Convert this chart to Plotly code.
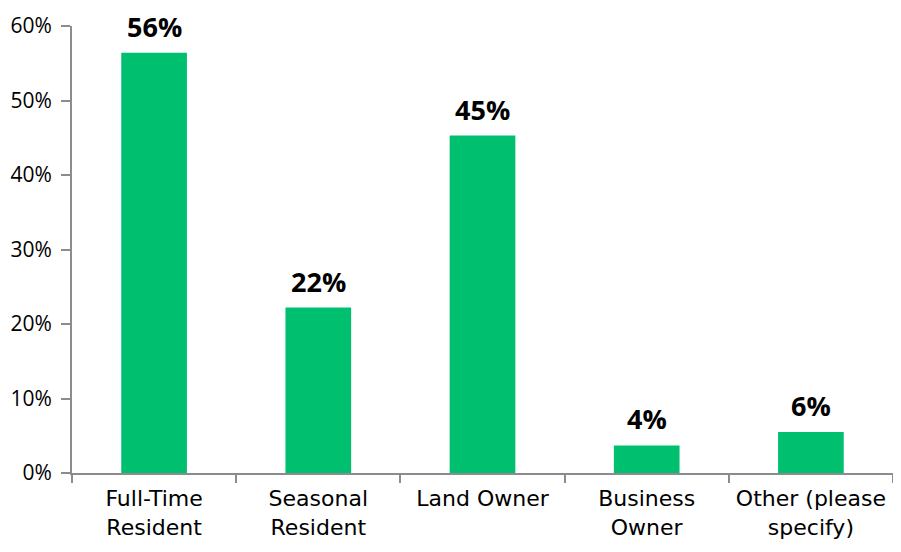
import plotly.graph_objects as go

categories = ["Full-Time<br>Resident", "Seasonal<br>Resident", "Land Owner", "Business<br>Owner", "Other (please<br>specify)"]
values = [56.4, 22.2, 45.3, 3.7, 5.5]
labels = ["56%", "22%", "45%", "4%", "6%"]
tick_vals = [0, 10, 20, 30, 40, 50, 60]
tick_text = ["0%", "10%", "20%", "30%", "40%", "50%", "60%"]

fig = go.Figure(go.Bar(
    x=categories, y=values,
    marker=dict(color="#00BF6F", line=dict(width=0)),
    width=0.4, cliponaxis=False,
))

for c, v, t in zip(categories, values, labels):
    fig.add_annotation(x=c, y=v, text=t, showarrow=False, yanchor="bottom", yshift=6,
                       font=dict(family="Open Sans", size=27, color="#000000", weight="bold"))

# page body has an 8px default margin, so the figure is sized/offset to compensate
fig.update_layout(
    width=885, height=536,
    margin=dict(l=64, r=0, t=18, b=71, autoexpand=False),
    paper_bgcolor="white", plot_bgcolor="white",
    font=dict(family="Open Sans", size=20, color="#000000"),
    showlegend=False,
    xaxis=dict(showline=True, linecolor="#8C8C8C", linewidth=2, ticks="outside",
               tickson="boundaries", ticklen=8, tickwidth=2, tickcolor="#8C8C8C",
               showgrid=False, tickfont=dict(family="DejaVu Sans", size=22), automargin=False,
               ticklabelstandoff=5, tickangle=0),
    yaxis=dict(range=[0, 60], tickvals=tick_vals, ticktext=tick_text, showline=True,
               linecolor="#8C8C8C", linewidth=2, ticks="outside", ticklen=9, tickwidth=2,
               tickcolor="#8C8C8C", showgrid=False, zeroline=False,
               tickfont=dict(family="Open Sans", size=21), automargin=False, ticklabelstandoff=5),
)

fig.write_html("out.html")
